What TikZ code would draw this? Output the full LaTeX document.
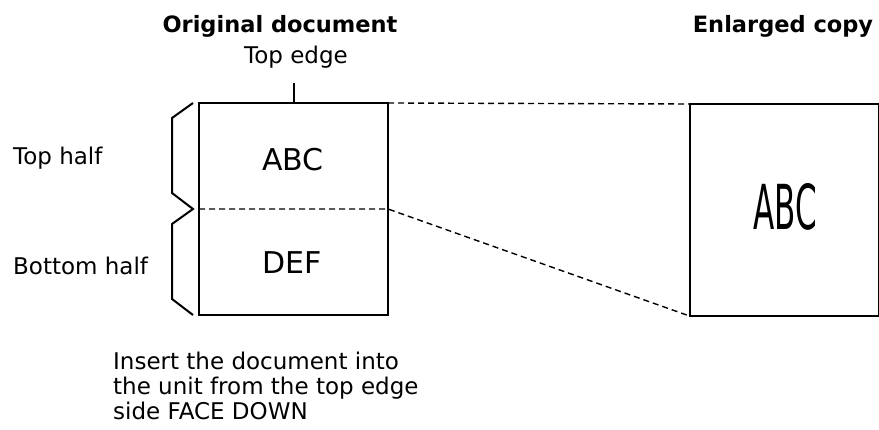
\documentclass[tikz,border=0pt]{standalone}
\usepackage{fontspec}
\setmainfont{DejaVu Sans}
\usetikzlibrary{positioning,calc}

\begin{document}
\begin{tikzpicture}[
  x=1pt,y=-1pt,
  every node/.style={font=\fontsize{23}{25}\selectfont,inner sep=0pt},
  title/.style={font=\fontsize{22.5}{25}\selectfont\bfseries},
  bigtext/.style={font=\fontsize{30}{30}\selectfont},
  page/.style={draw,line width=2pt,inner sep=0pt,outer sep=0pt,minimum width=189pt,minimum height=212pt},
  fold/.style={line width=1.4pt,dash pattern=on 6pt off 4pt},
  brace/.style={line width=2pt,line join=miter}
]
\useasboundingbox (0,0) rectangle (879,430);
\node[page] (orig) at (293.5,209) {};
\node[page] (copy) at (784,210) {};
\node[bigtext] (abc) at (293,160) {ABC};
\node[bigtext] (def) at (292,263) {DEF};
\node[font=\fontsize{62}{62}\selectfont] (bigabc) at (785,207) {\scalebox{0.5}[1]{ABC}};
\node[title] (origtitle) at (280,26) {Original document};
\node[title] (copytitle) at (783,26) {Enlarged copy};
\node (topedge) at (296,57) {Top edge};
\node[anchor=west] (tophalf) at (13,158) {Top half};
\node[anchor=west] (bottomhalf) at (13,266) {Bottom half};
\node[anchor=north west,align=left] (note) at (113,352) {Insert the document into\\the unit from the top edge\\side FACE DOWN};
\coordinate (tick) at ($(orig.north)+(0,-20)$);
\draw[line width=2pt] (orig.north) -- (tick);
\draw[fold] (orig.north east) -- (copy.north west);
\draw[fold] (orig.west) -- (orig.east) -- (copy.south west);
\draw[brace] ($(orig.north west)+(-6,0)$) -- ++(-21,15) -- ++(0,75)
  -- ($(orig.west)+(-6,0)$) -- ++(-21,15) -- ++(0,75)
  -- ($(orig.south west)+(-6,0)$);
\end{tikzpicture}
\end{document}
